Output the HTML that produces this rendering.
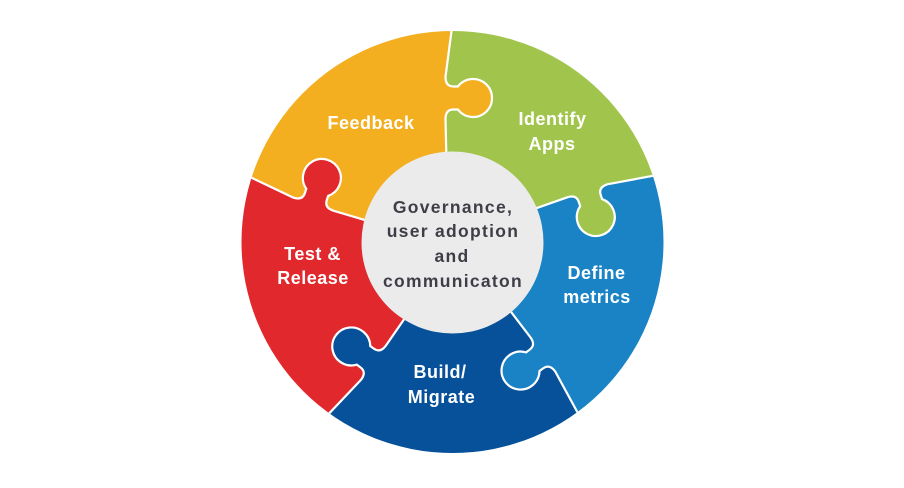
<!DOCTYPE html>
<html><head><meta charset="utf-8"><style>
html,body{margin:0;padding:0;background:#fff;width:904px;height:488px;overflow:hidden;}
#wrap{position:absolute;left:0;top:0;width:904px;height:488px;overflow:hidden;}
svg{display:block;overflow:hidden;}
.l{font-family:"Liberation Sans",sans-serif;font-weight:bold;font-size:18px;fill:#fff;letter-spacing:0.5px;}
.c{font-family:"Liberation Sans",sans-serif;font-weight:bold;font-size:17.5px;fill:#3e3e47;letter-spacing:1.3px;}
.s{fill:none;stroke:#fff;stroke-width:2.2;}
</style></head><body>
<div id="wrap">
<svg width="904" height="488" viewBox="0 0 904 488" xmlns="http://www.w3.org/2000/svg">
<defs>
<clipPath id="cl"><circle cx="452.5" cy="242" r="211"/></clipPath>
</defs>
<g clip-path="url(#cl)">
  <!-- wedges -->
  <path fill="#A1C54C" d="M445.5,242 L446.5,162 L445.5,119 L445.5,77 L451.5,31 L452.5,26 A216 216 0 0 1 657.93,175.25 L652.87,175.85 L607.26,184.35 L567.32,197.33 L526.73,211.57 L450.34,235.34 Z"/>
  <path fill="#1A83C5" d="M450.34,235.34 L526.73,211.57 L567.32,197.33 L607.26,184.35 L652.87,175.85 L657.93,175.25 A216 216 0 0 1 579.46,416.75 L577.33,412.12 L555.15,371.37 L530.46,337.39 L504.38,303.20 L458.16,237.89 Z"/>
  <path fill="#07509A" d="M458.16,237.89 L504.38,303.20 L530.46,337.39 L555.15,371.37 L577.33,412.12 L579.46,416.75 A216 216 0 0 1 325.54,416.75 L329.29,413.29 L361.18,379.60 L385.87,345.62 L410.33,310.25 L458.16,246.11 Z"/>
  <path fill="#E1282D" d="M458.16,246.11 L410.33,310.25 L385.87,345.62 L361.18,379.60 L329.29,413.29 L325.54,416.75 A216 216 0 0 1 247.07,175.25 L251.52,177.75 L293.41,197.67 L333.36,210.65 L374.56,222.98 L450.34,248.66 Z"/>
  <path fill="#F3AF1F" d="M450.34,248.66 L374.56,222.98 L333.36,210.65 L293.41,197.67 L251.52,177.75 L247.07,175.25 A216 216 0 0 1 452.5,26 L451.5,31 L445.5,77 L445.5,119 L446.5,162 L445.5,242 Z"/>

  <!-- knobs -->
  <path fill="#F3AF1F" d="M440.5,119 L445.5,119 Q445.5,109.5 453.5,109.5 L457.9,109.5 A19 19 0 1 0 457.9,86.5 L453.5,86.5 Q445.5,86.5 445.5,77 L440.5,77 Z"/>
  <path fill="#A1C54C" d="M565.77,192.58 L567.32,197.33 Q576.35,194.40 578.82,202.01 L580.18,206.19 A19 19 0 1 0 602.06,199.08 L600.70,194.90 Q598.23,187.29 607.26,184.35 L605.72,179.60 Z"/>
  <path fill="#1A83C5" d="M534.51,334.46 L530.46,337.39 Q536.05,345.08 529.57,349.78 L526.01,352.37 A19 19 0 1 0 539.53,370.98 L543.09,368.39 Q549.56,363.69 555.15,371.37 L559.19,368.44 Z"/>
  <path fill="#07509A" d="M389.91,348.56 L385.87,345.62 Q380.28,353.31 373.81,348.61 L370.25,346.02 A19 19 0 1 0 356.73,364.63 L360.29,367.22 Q366.76,371.92 361.18,379.60 L365.22,382.54 Z"/>
  <path fill="#E1282D" d="M331.81,215.40 L333.36,210.65 Q324.32,207.71 326.79,200.10 L328.15,195.92 A19 19 0 1 0 306.28,188.81 L304.92,193.00 Q302.45,200.60 293.41,197.67 L291.87,202.43 Z"/>

  <!-- white seams -->
  <path class="s" d="M446.5,172 L446.5,162 L445.5,119 Q445.5,109.5 453.5,109.5 L457.9,109.5 A19 19 0 1 0 457.9,86.5 L453.5,86.5 Q445.5,86.5 445.5,77 L451.5,31 L452.5,27"/>
  <path class="s" d="M517.22,214.66 L526.73,211.57 L567.32,197.33 Q576.35,194.40 578.82,202.01 L580.18,206.19 A19 19 0 1 0 602.06,199.08 L600.70,194.90 Q598.23,187.29 607.26,184.35 L652.87,175.85 L656.98,175.56"/>
  <path class="s" d="M498.50,295.10 L504.38,303.20 L530.46,337.39 Q536.05,345.08 529.57,349.78 L526.01,352.37 A19 19 0 1 0 539.53,370.98 L543.09,368.39 Q549.56,363.69 555.15,371.37 L577.33,412.12 L578.88,415.94"/>
  <path class="s" d="M416.21,302.16 L410.33,310.25 L385.87,345.62 Q380.28,353.31 373.81,348.61 L370.25,346.02 A19 19 0 1 0 356.73,364.63 L360.29,367.22 Q366.76,371.92 361.18,379.60 L329.29,413.29 L326.13,415.94"/>
  <path class="s" d="M384.07,226.07 L374.56,222.98 L333.36,210.65 Q324.32,207.71 326.79,200.10 L328.15,195.92 A19 19 0 1 0 306.28,188.81 L304.92,193.00 Q302.45,200.60 293.41,197.67 L251.52,177.75 L248.02,175.56"/>
</g>
<circle cx="452.5" cy="242.5" r="91" fill="#EBEBEB"/>

<text class="l" x="371" y="129" text-anchor="middle">Feedback</text>
<text class="l" x="552.5" y="125" text-anchor="middle">Identify</text>
<text class="l" x="552" y="150" text-anchor="middle">Apps</text>
<text class="l" x="596.5" y="279" text-anchor="middle">Define</text>
<text class="l" x="597" y="303" text-anchor="middle">metrics</text>
<text class="l" x="440" y="378" text-anchor="middle">Build/</text>
<text class="l" x="441.5" y="403" text-anchor="middle">Migrate</text>
<text class="l" x="312.5" y="260" text-anchor="middle">Test &amp;</text>
<text class="l" x="313" y="284" text-anchor="middle">Release</text>

<text class="c" x="453" y="213" text-anchor="middle">Governance,</text>
<text class="c" x="453" y="237" text-anchor="middle">user adoption</text>
<text class="c" x="452" y="262" text-anchor="middle">and</text>
<text class="c" x="453" y="287" text-anchor="middle">communicaton</text>
</svg>
</div>
</body></html>
